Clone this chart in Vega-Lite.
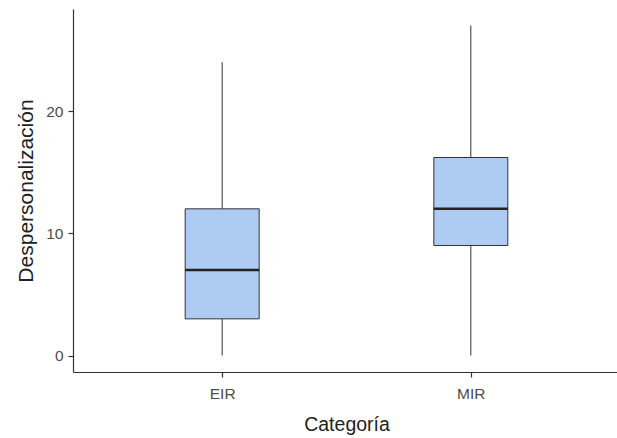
{
  "$schema": "https://vega.github.io/schema/vega-lite/v6.json",
  "width": 547,
  "height": 363,
  "autosize": "none",
  "padding": {"left": 73, "top": 9, "right": 0, "bottom": 66},
  "background": "white",
  "config": {
    "view": {"stroke": null},
    "font": "Liberation Sans",
    "axis": {
      "grid": false,
      "domainColor": "#333333",
      "domainWidth": 1.2,
      "tickColor": "#333333",
      "tickWidth": 1.2,
      "tickSize": 5,
      "labelPadding": 5,
      "labelFontSize": 15.5,
      "labelColor": "#4d4d4d",
      "titleFontSize": 19.5,
      "titleFontWeight": "normal",
      "titleColor": "#222222",
      "titlePadding": 10
    }
  },
  "data": {
    "values": [
      {"Categoria": "EIR", "min": 0, "q1": 3, "median": 7, "q3": 12, "max": 24},
      {"Categoria": "MIR", "min": 0, "q1": 9, "median": 12, "q3": 16.2, "max": 27}
    ]
  },
  "encoding": {
    "x": {
      "field": "Categoria",
      "type": "nominal",
      "scale": {"type": "point", "padding": 0.6},
      "axis": {"title": "Categoría", "labelAngle": 0, "labelPadding": 9, "titlePadding": 14}
    }
  },
  "layer": [
    {
      "mark": {"type": "rule", "color": "#333333", "strokeWidth": 1},
      "encoding": {
        "y": {
          "field": "min",
          "type": "quantitative",
          "scale": {"domain": [-1.35, 28.35], "nice": false, "zero": false},
          "axis": {"title": "Despersonalización", "values": [0, 10, 20], "titleFontSize": 21, "titlePadding": 9}
        },
        "y2": {"field": "max"}
      }
    },
    {
      "mark": {"type": "bar", "size": 74, "fill": "#aecbf3", "stroke": "#333333", "strokeWidth": 1},
      "encoding": {
        "y": {"field": "q1", "type": "quantitative"},
        "y2": {"field": "q3"}
      }
    },
    {
      "mark": {"type": "tick", "size": 74, "thickness": 2.5, "color": "#222222", "opacity": 1},
      "encoding": {
        "y": {"field": "median", "type": "quantitative"}
      }
    }
  ]
}
